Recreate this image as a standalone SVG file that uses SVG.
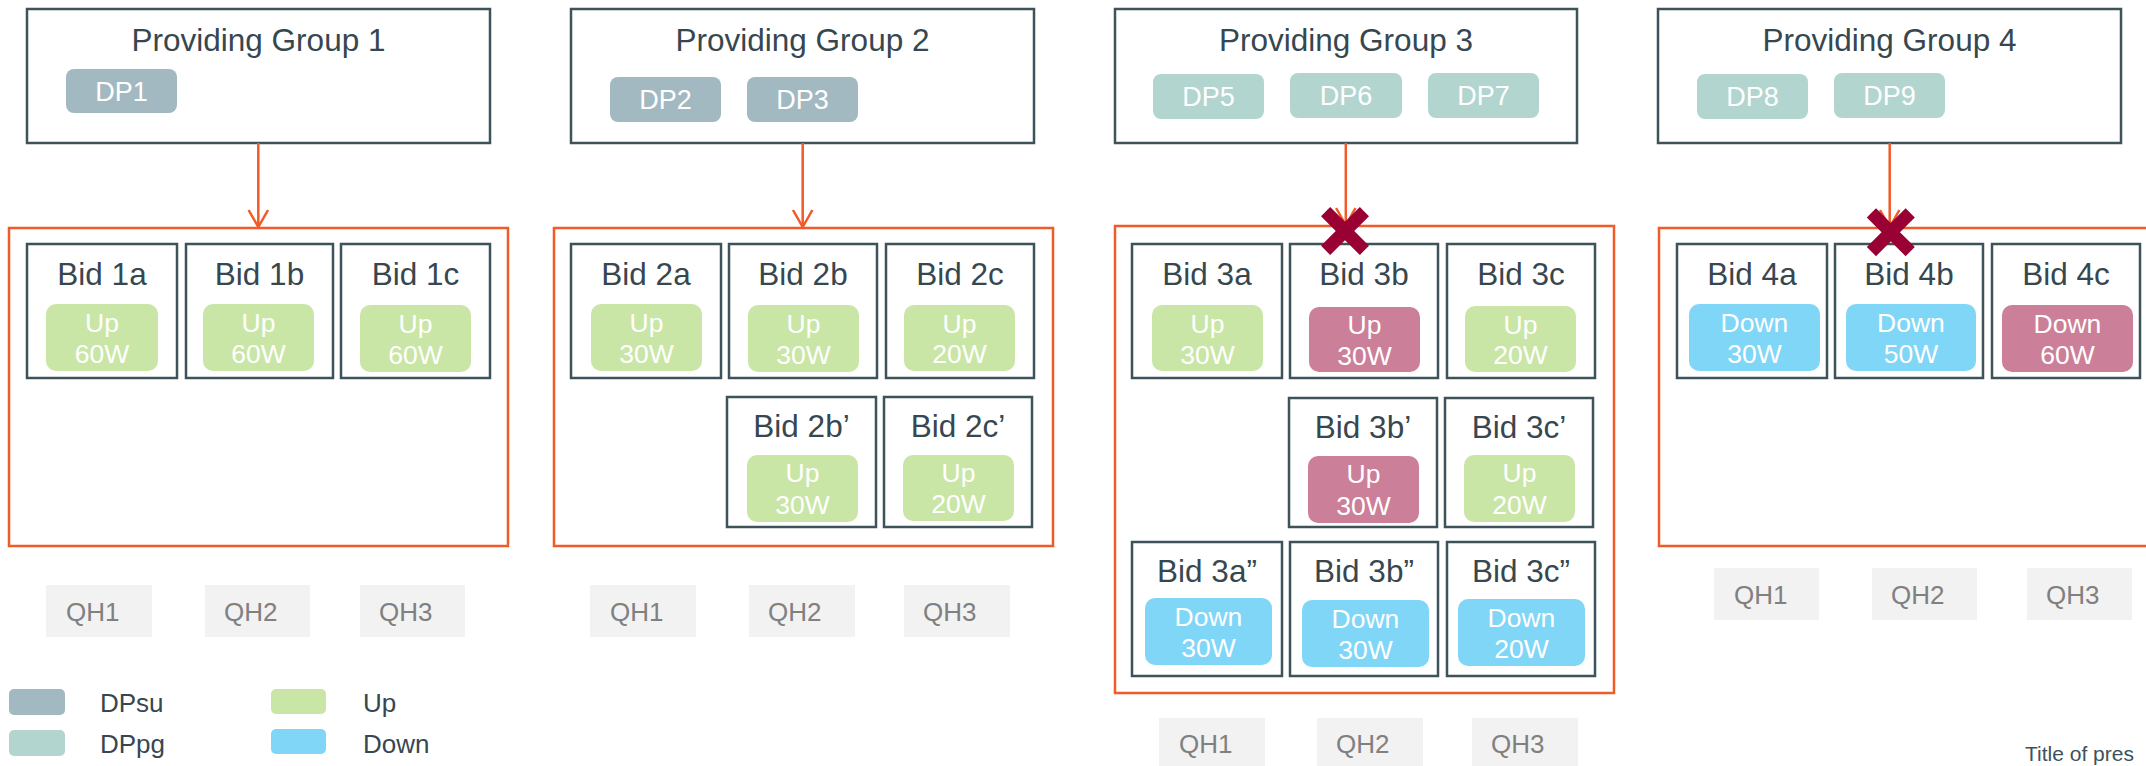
<svg xmlns="http://www.w3.org/2000/svg" width="2146" height="766" viewBox="0 0 2146 766">
<style>
text{font-family:"Liberation Sans",Arial,sans-serif}
.grp{fill:#fff;stroke:#3e525a;stroke-width:2.5}
.title{font-size:31.5px;fill:#37474f;text-anchor:middle}
.dp{font-size:27px;fill:#fff;text-anchor:middle}
.su{fill:#a2b9c1}
.pg{fill:#b3d5cf}
.cont{fill:none;stroke:#f15a29;stroke-width:2.5}
.bid{fill:#fff;stroke:#3e525a;stroke-width:2.5}
.bl{font-size:31.5px;fill:#37474f;text-anchor:middle}
.up{fill:#c9e6a6}
.down{fill:#80d6f7}
.rej{fill:#cc7f98}
.pt{font-size:26.5px;fill:#fff;text-anchor:middle}
.qh{fill:#f2f2f2}
.qt{font-size:26px;fill:#808080}
.lg{font-size:26px;fill:#37474f}
.conn{stroke:#f15a29;stroke-width:2.5;fill:none}
.x{stroke:#990033;stroke-width:13;stroke-linecap:butt}
</style>
<defs>
<marker id="ah" markerUnits="userSpaceOnUse" viewBox="-19 -11 22 22" markerWidth="22" markerHeight="22" refX="0" refY="0" orient="auto">
<path d="M-17,-9.7 L0,0 L-17,9.7" fill="none" stroke="#f15a29" stroke-width="2.5"/>
</marker>
</defs>

<!-- Group 1 -->
<g id="group1">
<rect class="grp" x="27" y="9" width="463" height="134"/>
<text class="title" x="258.5" y="51">Providing Group 1</text>
<rect class="su" x="66" y="69" width="111" height="44" rx="8"/>
<text class="dp" x="121.5" y="101">DP1</text>
</g>
<g id="bids1">
<rect class="cont" x="9" y="228" width="499" height="318"/>
<g id="bid1a"><rect class="bid" x="27" y="244" width="150" height="134"/><text class="bl" x="102" y="285">Bid 1a</text><rect class="up" x="46" y="304" width="112" height="67" rx="10"/><text class="pt" x="102" y="332">Up</text><text class="pt" x="102" y="363">60W</text></g>
<g id="bid1b"><rect class="bid" x="186" y="244" width="147" height="134"/><text class="bl" x="259.5" y="285">Bid 1b</text><rect class="up" x="203" y="304" width="111" height="67" rx="10"/><text class="pt" x="258.5" y="332">Up</text><text class="pt" x="258.5" y="363">60W</text></g>
<g id="bid1c"><rect class="bid" x="341" y="244" width="149" height="134"/><text class="bl" x="415.5" y="285">Bid 1c</text><rect class="up" x="360" y="305" width="111" height="67" rx="10"/><text class="pt" x="415.5" y="333">Up</text><text class="pt" x="415.5" y="364">60W</text></g>
</g>
<g id="qh1">
<rect class="qh" x="46" y="585" width="106" height="52"/><text class="qt" x="66" y="621">QH1</text>
<rect class="qh" x="205" y="585" width="105" height="52"/><text class="qt" x="224" y="621">QH2</text>
<rect class="qh" x="360" y="585" width="105" height="52"/><text class="qt" x="379" y="621">QH3</text>
</g>

<!-- Group 2 -->
<g id="group2">
<rect class="grp" x="571" y="9" width="463" height="134"/>
<text class="title" x="802.5" y="51">Providing Group 2</text>
<rect class="su" x="610" y="77" width="111" height="45" rx="8"/>
<text class="dp" x="665.5" y="109">DP2</text>
<rect class="su" x="747" y="77" width="111" height="45" rx="8"/>
<text class="dp" x="802.5" y="109">DP3</text>
</g>
<g id="bids2">
<rect class="cont" x="554" y="228" width="499" height="318"/>
<g id="bid2a"><rect class="bid" x="571" y="244" width="150" height="134"/><text class="bl" x="646" y="285">Bid 2a</text><rect class="up" x="591" y="304" width="111" height="67" rx="10"/><text class="pt" x="646.5" y="332">Up</text><text class="pt" x="646.5" y="363">30W</text></g>
<g id="bid2b"><rect class="bid" x="729" y="244" width="148" height="134"/><text class="bl" x="803" y="285">Bid 2b</text><rect class="up" x="748" y="305" width="111" height="67" rx="10"/><text class="pt" x="803.5" y="333">Up</text><text class="pt" x="803.5" y="364">30W</text></g>
<g id="bid2c"><rect class="bid" x="886" y="244" width="148" height="134"/><text class="bl" x="960" y="285">Bid 2c</text><rect class="up" x="904" y="305" width="111" height="66" rx="10"/><text class="pt" x="959.5" y="333">Up</text><text class="pt" x="959.5" y="363">20W</text></g>
<g id="bid2b2"><rect class="bid" x="727" y="397" width="149" height="130"/><text class="bl" x="801.5" y="437">Bid 2b’</text><rect class="up" x="747" y="455" width="111" height="67" rx="10"/><text class="pt" x="802.5" y="482">Up</text><text class="pt" x="802.5" y="514">30W</text></g>
<g id="bid2c2"><rect class="bid" x="884" y="397" width="148" height="130"/><text class="bl" x="958" y="437">Bid 2c’</text><rect class="up" x="903" y="455" width="111" height="66" rx="10"/><text class="pt" x="958.5" y="482">Up</text><text class="pt" x="958.5" y="513">20W</text></g>
</g>
<g id="qh2">
<rect class="qh" x="590" y="585" width="106" height="52"/><text class="qt" x="610" y="621">QH1</text>
<rect class="qh" x="749" y="585" width="106" height="52"/><text class="qt" x="768" y="621">QH2</text>
<rect class="qh" x="904" y="585" width="106" height="52"/><text class="qt" x="923" y="621">QH3</text>
</g>

<!-- Group 3 -->
<g id="group3">
<rect class="grp" x="1115" y="9" width="462" height="134"/>
<text class="title" x="1346" y="51">Providing Group 3</text>
<rect class="pg" x="1153" y="74" width="111" height="45" rx="8"/>
<text class="dp" x="1208.5" y="106">DP5</text>
<rect class="pg" x="1290" y="73" width="112" height="45" rx="8"/>
<text class="dp" x="1346" y="105">DP6</text>
<rect class="pg" x="1428" y="73" width="111" height="45" rx="8"/>
<text class="dp" x="1483.5" y="105">DP7</text>
</g>
<g id="bids3">
<rect class="cont" x="1115" y="226" width="499" height="467"/>
<g id="bid3a"><rect class="bid" x="1132" y="244" width="150" height="134"/><text class="bl" x="1207" y="285">Bid 3a</text><rect class="up" x="1152" y="305" width="111" height="66" rx="10"/><text class="pt" x="1207.5" y="333">Up</text><text class="pt" x="1207.5" y="364">30W</text></g>
<g id="bid3b"><rect class="bid" x="1290" y="244" width="148" height="134"/><text class="bl" x="1364" y="285">Bid 3b</text><rect class="rej" x="1309" y="307" width="111" height="65" rx="10"/><text class="pt" x="1364.5" y="334">Up</text><text class="pt" x="1364.5" y="365">30W</text></g>
<g id="bid3c"><rect class="bid" x="1447" y="244" width="148" height="134"/><text class="bl" x="1521" y="285">Bid 3c</text><rect class="up" x="1465" y="306" width="111" height="66" rx="10"/><text class="pt" x="1520.5" y="334">Up</text><text class="pt" x="1520.5" y="364">20W</text></g>
<g id="bid3b2"><rect class="bid" x="1289" y="398" width="148" height="129"/><text class="bl" x="1363" y="438">Bid 3b’</text><rect class="rej" x="1308" y="456" width="111" height="67" rx="10"/><text class="pt" x="1363.5" y="483">Up</text><text class="pt" x="1363.5" y="515">30W</text></g>
<g id="bid3c2"><rect class="bid" x="1445" y="398" width="148" height="129"/><text class="bl" x="1519" y="438">Bid 3c’</text><rect class="up" x="1464" y="455" width="111" height="67" rx="10"/><text class="pt" x="1519.5" y="482">Up</text><text class="pt" x="1519.5" y="514">20W</text></g>
<g id="bid3a3"><rect class="bid" x="1132" y="542" width="150" height="134"/><text class="bl" x="1207" y="582">Bid 3a”</text><rect class="down" x="1145" y="598" width="127" height="67" rx="10"/><text class="pt" x="1208.5" y="626">Down</text><text class="pt" x="1208.5" y="657">30W</text></g>
<g id="bid3b3"><rect class="bid" x="1290" y="542" width="148" height="134"/><text class="bl" x="1364" y="582">Bid 3b”</text><rect class="down" x="1302" y="600" width="127" height="67" rx="10"/><text class="pt" x="1365.5" y="628">Down</text><text class="pt" x="1365.5" y="659">30W</text></g>
<g id="bid3c3"><rect class="bid" x="1447" y="542" width="148" height="134"/><text class="bl" x="1521" y="582">Bid 3c”</text><rect class="down" x="1458" y="599" width="127" height="67" rx="10"/><text class="pt" x="1521.5" y="627">Down</text><text class="pt" x="1521.5" y="658">20W</text></g>
</g>
<g id="qh3">
<rect class="qh" x="1159" y="718" width="106" height="52"/><text class="qt" x="1179" y="753">QH1</text>
<rect class="qh" x="1317" y="718" width="106" height="52"/><text class="qt" x="1336" y="753">QH2</text>
<rect class="qh" x="1472" y="718" width="106" height="52"/><text class="qt" x="1491" y="753">QH3</text>
</g>

<!-- Group 4 -->
<g id="group4">
<rect class="grp" x="1658" y="9" width="463" height="134"/>
<text class="title" x="1889.5" y="51">Providing Group 4</text>
<rect class="pg" x="1697" y="74" width="111" height="45" rx="8"/>
<text class="dp" x="1752.5" y="106">DP8</text>
<rect class="pg" x="1834" y="73" width="111" height="45" rx="8"/>
<text class="dp" x="1889.5" y="105">DP9</text>
</g>
<g id="bids4">
<rect class="cont" x="1659" y="228" width="520" height="318"/>
<g id="bid4a"><rect class="bid" x="1677" y="244" width="150" height="134"/><text class="bl" x="1752" y="285">Bid 4a</text><rect class="down" x="1689" y="304" width="131" height="67" rx="10"/><text class="pt" x="1754.5" y="332">Down</text><text class="pt" x="1754.5" y="363">30W</text></g>
<g id="bid4b"><rect class="bid" x="1835" y="244" width="148" height="134"/><text class="bl" x="1909" y="285">Bid 4b</text><rect class="down" x="1846" y="304" width="130" height="67" rx="10"/><text class="pt" x="1911" y="332">Down</text><text class="pt" x="1911" y="363">50W</text></g>
<g id="bid4c"><rect class="bid" x="1992" y="244" width="148" height="134"/><text class="bl" x="2066" y="285">Bid 4c</text><rect class="rej" x="2002" y="305" width="131" height="67" rx="10"/><text class="pt" x="2067.5" y="333">Down</text><text class="pt" x="2067.5" y="364">60W</text></g>
</g>
<g id="qh4">
<rect class="qh" x="1714" y="568" width="105" height="52"/><text class="qt" x="1734" y="604">QH1</text>
<rect class="qh" x="1872" y="568" width="105" height="52"/><text class="qt" x="1891" y="604">QH2</text>
<rect class="qh" x="2027" y="568" width="105" height="52"/><text class="qt" x="2046" y="604">QH3</text>
</g>

<!-- Connectors -->
<g id="connectors">
<line class="conn" x1="258.3" y1="143" x2="258.3" y2="227" marker-end="url(#ah)"/>
<line class="conn" x1="802.7" y1="143" x2="802.7" y2="227" marker-end="url(#ah)"/>
<line class="conn" x1="1345.8" y1="143" x2="1345.8" y2="225" marker-end="url(#ah)"/>
<line class="conn" x1="1889.7" y1="143" x2="1889.7" y2="227" marker-end="url(#ah)"/>
</g>

<!-- Rejection marks -->
<g id="reject3">
<line class="x" x1="1325.6" y1="211.6" x2="1364.4" y2="250.4"/>
<line class="x" x1="1364.4" y1="211.6" x2="1325.6" y2="250.4"/>
</g>
<g id="reject4">
<line class="x" x1="1871.4" y1="212.8" x2="1910.2" y2="251.6"/>
<line class="x" x1="1910.2" y1="212.8" x2="1871.4" y2="251.6"/>
</g>

<!-- Legend -->
<g id="legend">
<rect class="su" x="9" y="689" width="56" height="26" rx="5"/>
<text class="lg" x="100" y="712">DPsu</text>
<rect class="pg" x="9" y="730" width="56" height="26" rx="5"/>
<text class="lg" x="100" y="753">DPpg</text>
<rect class="up" x="271" y="689" width="55" height="25" rx="5"/>
<text class="lg" x="363" y="712">Up</text>
<rect class="down" x="271" y="729" width="55" height="25" rx="5"/>
<text class="lg" x="363" y="753">Down</text>
</g>

<text x="2025" y="761" style="font-size:21px;fill:#3e525a">Title of pres</text>
</svg>
